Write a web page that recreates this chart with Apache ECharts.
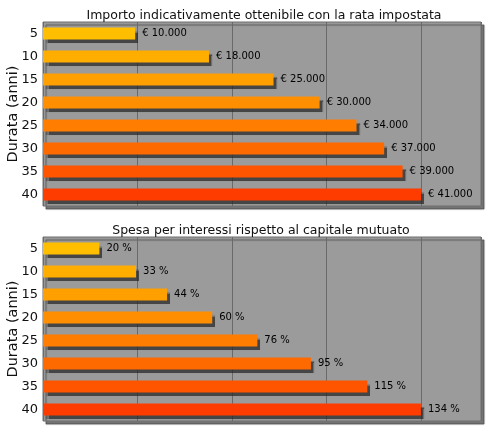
<!DOCTYPE html>
<html><head><meta charset="utf-8">
<script src="https://cdn.jsdelivr.net/npm/echarts@6/dist/echarts.min.js"></script>
<style>html,body{margin:0;padding:0;background:#fff}#c{width:500px;height:435px}</style>
</head><body><div id="c"></div>
<script>
const categories = ['5','10','15','20','25','30','35','40'];
const importo = [10000, 18000, 25000, 30000, 34000, 37000, 39000, 41000];
const interessi = [20, 33, 44, 60, 76, 95, 115, 134];
const title1 = 'Importo indicativamente ottenibile con la rata impostata';
const title2 = 'Spesa per interessi rispetto al capitale mutuato';
const yName = 'Durata (anni)';
const barColors = ['#FFBF00','#FFAE00','#FF9F00','#FF8F00','#FF7D00','#FF6A00','#FF5400','#FF3C00'];

const FONT = 'DejaVu Sans';
function euro(v){ const s=String(v); return '€ ' + s.replace(/\B(?=(\d{3})+(?!\d))/g,'.'); }

const chart = echarts.init(document.getElementById('c'), null, {renderer:'canvas'});
const gridBase = {left:43, right:19, height:184, containLabel:false, outerBoundsMode:'none',
  show:true, backgroundColor:'#9b9b9b', borderColor:'#6e6e6e', borderWidth:1,
  shadowColor:'rgba(60,60,60,0.7)', shadowBlur:1, shadowOffsetX:3, shadowOffsetY:3};
function yAx(gi){ return {type:'category', gridIndex:gi, data:categories, inverse:true,
  axisLine:{show:false}, axisTick:{show:false},
  axisLabel:{color:'#111', fontFamily:FONT, fontSize:13, margin:5},
  name:yName, nameLocation:'middle', nameRotate:90, nameGap:30, nameMoveOverlap:false,
  nameTextStyle:{color:'#111', fontFamily:FONT, fontSize:14.5, verticalAlign:'middle'}}; }
function xAx(gi, max, interval){ return {type:'value', gridIndex:gi, min:0, max:max, interval:interval,
  axisLine:{show:false}, axisTick:{show:false}, axisLabel:{show:false},
  splitLine:{show:true, lineStyle:{color:'#6a6a6a', width:1}}}; }
function ser(gi, vals, fmt){ return {type:'bar', xAxisIndex:gi, yAxisIndex:gi, barWidth:12,
  data: vals.map((v,i)=>({value:v, itemStyle:{color:barColors[i]}})),
  itemStyle:{shadowColor:'rgba(40,40,40,0.75)', shadowOffsetX:3, shadowOffsetY:3, shadowBlur:1},
  label:{show:true, position:'right', distance:7, color:'#000', fontFamily:FONT, fontSize:10, formatter:p=>fmt(p.value)}}; }

chart.setOption({
  animation:false,
  title:[
    {text:title1, left:259, top:4, textAlign:'center', textStyle:{fontFamily:FONT, fontSize:12.5, fontWeight:'normal', color:'#111'}},
    {text:title2, left:256, top:219, textAlign:'center', textStyle:{fontFamily:FONT, fontSize:12.5, fontWeight:'normal', color:'#111'}}
  ],
  grid:[Object.assign({top:22}, gridBase), Object.assign({top:237}, gridBase)],
  xAxis:[xAx(0, 47500, 10250), xAx(1, 155.3, 33.5)],
  yAxis:[yAx(0), yAx(1)],
  series:[ser(0, importo, euro), ser(1, interessi, v=>v+' %')]
});
</script></body></html>
